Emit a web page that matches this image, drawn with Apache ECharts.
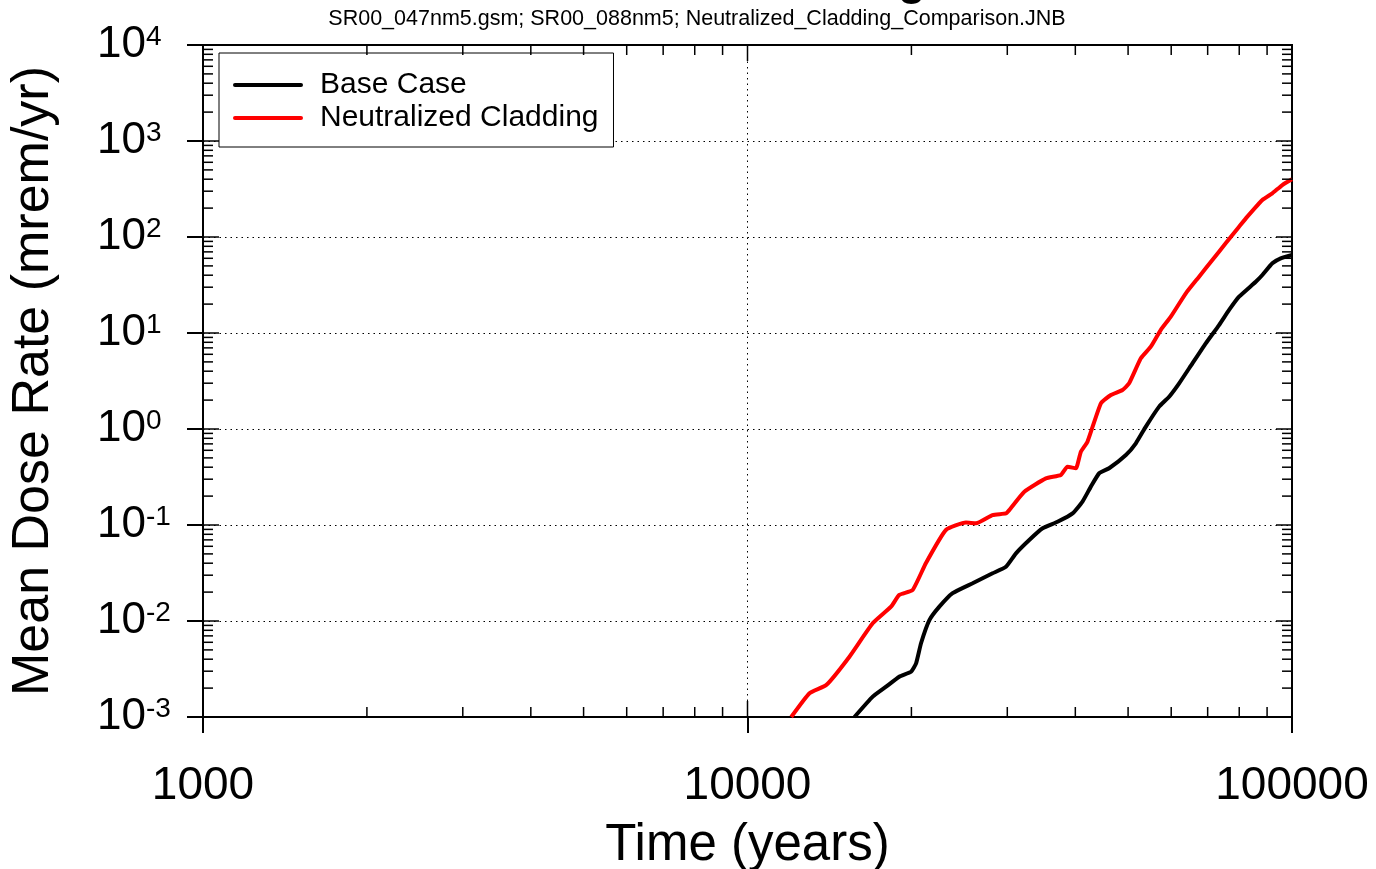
<!DOCTYPE html>
<html>
<head>
<meta charset="utf-8">
<script src="https://cdn.jsdelivr.net/npm/echarts@6.0.0/dist/echarts.min.js"></script>
<style>
  html, body { margin: 0; padding: 0; background: #fff; }
  #main { width: 1376px; height: 869px; }
</style>
</head>
<body>
<div id="main"></div>
<script>
// values (years, mrem/yr)
var baseYears = [15720, 16980, 17970, 19000, 19970, 20400, 20830, 21580, 22510, 23810, 25910, 28190, 29830, 31120, 32920, 34830, 37100, 39540, 41230, 42720, 44250, 46150, 49540, 51670, 53900, 57020, 59480, 62050, 65630, 69450, 73460, 76650, 79950, 85800, 88220, 92020, 95340, 100000];
var baseDose = [0.001, 0.00163, 0.00207, 0.00263, 0.00296, 0.00362, 0.00586, 0.0102, 0.0141, 0.0195, 0.0247, 0.0314, 0.0368, 0.0507, 0.0698, 0.0924, 0.108, 0.132, 0.175, 0.251, 0.346, 0.390, 0.536, 0.710, 1.06, 1.71, 2.17, 2.99, 4.83, 7.81, 12.1, 17.4, 23.9, 34.2, 40.2, 53.2, 60.0, 64.9];

var neutYears = [12030, 13000, 13950, 15390, 16980, 18350, 19000, 20100, 21270, 23140, 25190, 26280, 28190, 29830, 30250, 32240, 35320, 37630, 38690, 40090, 40950, 42110, 44570, 46490, 48830, 50220, 52770, 55040, 57420, 59900, 63830, 67510, 71410, 75540, 79950, 82790, 88220, 92020, 95980, 100000];
var neutDose = [0.001, 0.00177, 0.00215, 0.00425, 0.00946, 0.0141, 0.0187, 0.0210, 0.0402, 0.0887, 0.106, 0.104, 0.127, 0.132, 0.143, 0.222, 0.306, 0.332, 0.405, 0.390, 0.580, 0.738, 1.85, 2.26, 2.55, 2.99, 5.45, 7.20, 10.8, 14.8, 25.9, 38.6, 57.6, 86.0, 128, 163, 243, 285, 348, 399];

var seriesNames = ['Base Case', 'Neutralized Cladding'];
var xMin = 1000, xMax = 100000;
var yMin = 0.001, yMax = 10000;
var titleText = 'Neutralized Cladding';
var subtitleText = 'SR00_047nm5.gsm; SR00_088nm5; Neutralized_Cladding_Comparison.JNB';

var FONT = '"Liberation Sans", Arial, sans-serif';

function zip(xs, ys) {
    return xs.map(function (x, i) { return [x, ys[i]]; });
}

// decade ticks and 2..9 minor ticks, drawn inside the frame
function decades(lo, hi) {
    var major = [], minor = [];
    for (var p = lo; p <= hi; p++) {
        major.push(Math.pow(10, p));
        if (p < hi) {
            for (var k = 2; k <= 9; k++) minor.push(+(k * Math.pow(10, p)).toPrecision(3));
        }
    }
    return { major: major, minor: minor };
}
var xTicks = decades(3, 5);
var yTicks = decades(-3, 4);

var tickData = [];
xTicks.major.forEach(function (v) { tickData.push([v, yMin, 2, 16], [v, yMax, 3, 16]); });
xTicks.minor.forEach(function (v) { tickData.push([v, yMin, 2, 10], [v, yMax, 3, 10]); });
yTicks.major.forEach(function (v) { tickData.push([xMin, v, 0, 16], [xMax, v, 1, 16]); });
yTicks.minor.forEach(function (v) { tickData.push([xMin, v, 0, 10], [xMax, v, 1, 10]); });

// thick line legend marker (70x28 box, 4px bar in the middle)
var legendIcon = 'path://M0,0L0,0M0,28L0,28M2,12L68,12A2,2,0,0,1,68,16L2,16A2,2,0,0,1,2,12Z';

var chart = echarts.init(document.getElementById('main'));

var option = {
    backgroundColor: '#fff',
    animation: false,
    textStyle: { fontFamily: FONT },
    graphic: [
        {
            type: 'text', x: 697, y: 4, silent: true,
            style: {
                text: titleText, font: 'bold 46px ' + FONT, fill: '#000',
                textAlign: 'center', align: 'center',
                textVerticalAlign: 'bottom', verticalAlign: 'bottom'
            }
        },
        {
            type: 'text', x: 697, y: 19, silent: true,
            style: {
                text: subtitleText, font: '21.5px ' + FONT, fill: '#000',
                textAlign: 'center', align: 'center',
                textVerticalAlign: 'middle', verticalAlign: 'middle'
            }
        }
    ],
    grid: {
        left: 203, right: 84, top: 45, bottom: 152,
        outerBoundsMode: 'none', containLabel: false,
        show: true, borderColor: '#000', borderWidth: 2, backgroundColor: '#fff'
    },
    legend: {
        data: seriesNames,
        orient: 'vertical',
        left: 219, top: 53,
        padding: [17, 15, 14, 14],
        itemGap: 3,
        itemWidth: 70, itemHeight: 28,
        icon: legendIcon,
        backgroundColor: '#fff',
        borderColor: '#000', borderWidth: 1,
        textStyle: { fontFamily: FONT, fontSize: 30, lineHeight: 28, color: '#000', padding: [0, 0, 0, 12] }
    },
    xAxis: {
        type: 'log', min: xMin, max: xMax, interval: 1,
        name: 'Time (years)', nameLocation: 'middle', nameGap: 103,
        nameTextStyle: { fontFamily: FONT, fontSize: 51, color: '#000' },
        axisLine: { lineStyle: { color: '#000', width: 2 } },
        axisTick: { inside: false, length: 16, lineStyle: { color: '#000', width: 2 } },
        axisLabel: {
            fontFamily: FONT, fontSize: 46, color: '#000', margin: 46,
            formatter: function (v) { return String(Math.round(v)); }
        },
        splitLine: { show: true, lineStyle: { color: '#000', width: 1, type: [1.5, 4] } }
    },
    yAxis: {
        type: 'log', min: yMin, max: yMax, interval: 1,
        name: 'Mean Dose Rate (mrem/yr)', nameLocation: 'middle', nameGap: 143,
        nameTextStyle: { fontFamily: FONT, fontSize: 52, color: '#000' },
        axisLine: { lineStyle: { color: '#000', width: 2 } },
        axisTick: { inside: false, length: 16, lineStyle: { color: '#000', width: 2 } },
        axisLabel: {
            margin: 106, align: 'left', color: '#000',
            formatter: function (v) {
                var e = Math.round(Math.log(v) / Math.LN10);
                return '{b|10}{s|' + e + '}';
            },
            rich: {
                b: { fontFamily: FONT, fontSize: 44, lineHeight: 44, color: '#000' },
                s: { fontFamily: FONT, fontSize: 28, lineHeight: 28, color: '#000', verticalAlign: 'top' }
            }
        },
        splitLine: { show: true, lineStyle: { color: '#000', width: 1, type: [1.5, 4] } }
    },
    series: [
        {
            name: seriesNames[0], type: 'line', data: zip(baseYears, baseDose),
            symbol: 'none', color: '#000', smooth: 0.15,
            lineStyle: { color: '#000', width: 4 }, z: 4
        },
        {
            name: seriesNames[1], type: 'line', data: zip(neutYears, neutDose),
            symbol: 'none', color: '#ff0000', smooth: 0.15,
            lineStyle: { color: '#ff0000', width: 4 }, z: 5
        },
        {
            name: 'ticks', type: 'custom', data: tickData, clip: false, silent: true, z: 6,
            renderItem: function (params, api) {
                var p = api.coord([api.value(0), api.value(1)]);
                var dir = api.value(2), len = api.value(3);
                var x2 = p[0], y2 = p[1];
                if (dir === 0) x2 += len;
                else if (dir === 1) x2 -= len;
                else if (dir === 2) y2 -= len;
                else y2 += len;
                return {
                    type: 'line',
                    shape: { x1: p[0], y1: p[1], x2: x2, y2: y2 },
                    style: { stroke: '#000', lineWidth: 1.5 }
                };
            }
        }
    ]
};

chart.setOption(option);
</script>
</body>
</html>
